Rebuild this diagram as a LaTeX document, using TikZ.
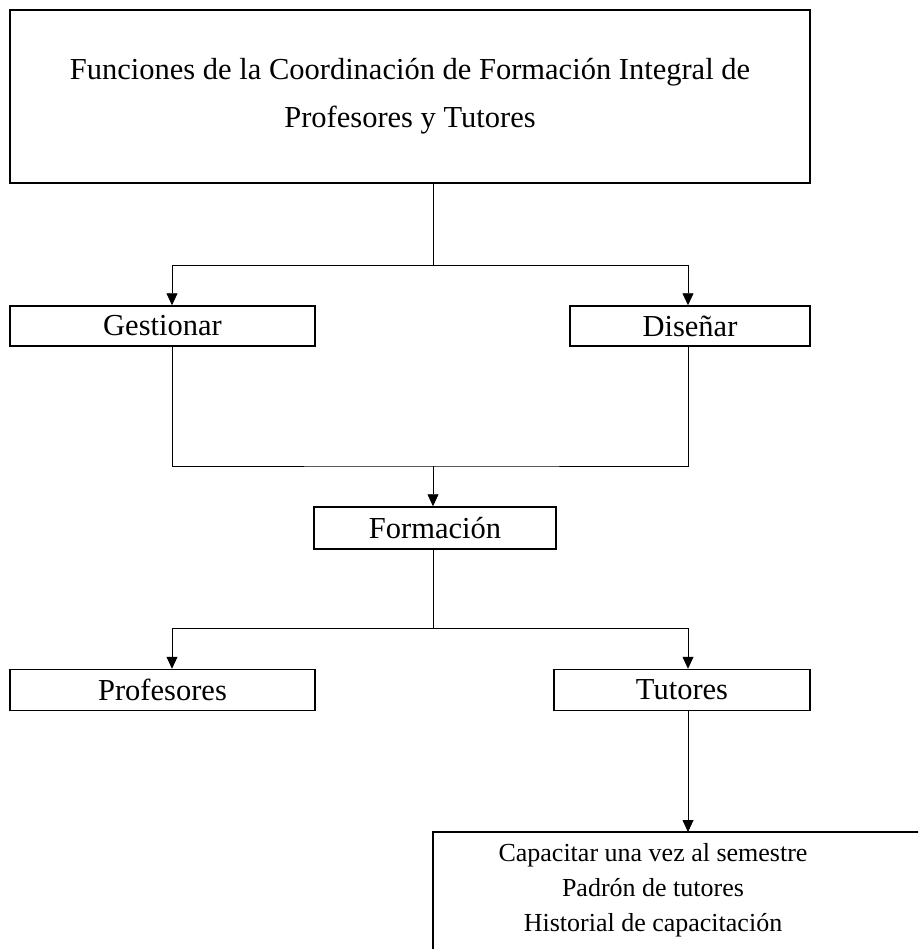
\documentclass[tikz,border=0pt]{standalone}
\usepackage{fontspec}
\setmainfont{Liberation Serif}
\usetikzlibrary{arrows.meta, positioning, calc}

\begin{document}
\begin{tikzpicture}[x=1pt, y=-1pt,
  box/.style={draw, line width=1.5pt, inner sep=0pt, font=\fontsize{30.5}{48}\selectfont, align=center},
  link/.style={line width=0.8pt},
  arrow/.style={link, -{Triangle[width=11pt, length=12pt]}}]
  \useasboundingbox[fill=white] (0,0) rectangle (918,949);
  \clip (0,0) rectangle (918,949);

  % cajas
  \node[box, minimum width=800pt, minimum height=173pt] (funciones) at (410,96.5)
    {Funciones de la Coordinación de Formación Integral de\\Profesores y Tutores};
  \node[box, minimum width=305pt, minimum height=40pt] (gestionar) at (162.5,326) {Gestionar};
  \node[box, minimum width=240pt, minimum height=40pt] (disenar) at (690,326) {Diseñar};
  \node[box, minimum width=242pt, minimum height=42pt] (formacion) at (435,528) {Formación};
  \node[box, minimum width=305pt, minimum height=41pt] (profesores) at (162.5,690) {Profesores};
  \node[box, minimum width=256pt, minimum height=41pt] (tutores) at (682,690) {Tutores};
  \draw[line width=1.5pt] (433,832) rectangle (960,990);
  \node[font=\fontsize{26}{35}\selectfont, align=center, anchor=north] (capacitar) at (653,840)
    {Capacitar una vez al semestre\\Padrón de tutores\\Historial de capacitación};

  % uniones
  \coordinate (jA) at (433,265);
  \coordinate (jB) at (433,466);
  \coordinate (jC) at (433,628);
  \coordinate (izq) at (172,0);
  \coordinate (der) at (688,0);

  % conectores
  \draw[link] (funciones.south -| jA) -- (jA);
  \draw[link] (jA -| izq) -- (jA -| der);
  \draw[arrow] (jA -| izq) -- (gestionar.north -| izq);
  \draw[arrow] (jA -| der) -- (disenar.north -| der);
  \draw[link] (gestionar.south -| izq) |- (jB) -| (disenar.south -| der);
  \draw[arrow] (jB) -- (formacion.north -| jB);
  \draw[link] (formacion.south -| jC) -- (jC);
  \draw[link] (jC -| izq) -- (jC -| der);
  \draw[arrow] (jC -| izq) -- (profesores.north -| izq);
  \draw[arrow] (jC -| der) -- (tutores.north -| der);
  \draw[arrow] (tutores.south -| der) -- (der |- 0,832);
\end{tikzpicture}
\end{document}
